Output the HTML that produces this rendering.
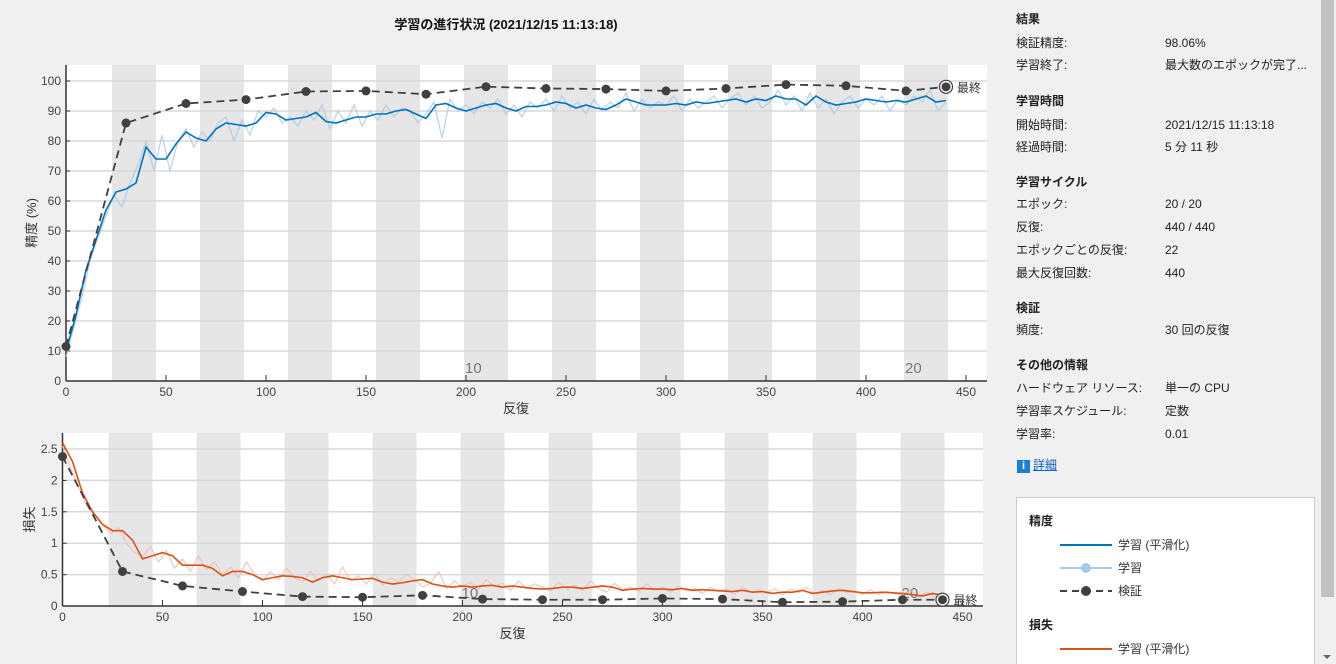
<!DOCTYPE html>
<html style="overflow:hidden"><head><meta charset="utf-8">
<style>
html,body{overflow:hidden;height:664px}
body{margin:0;width:1336px;height:664px;background:#f0f0f0;font-family:"Liberation Sans","Noto Sans CJK JP",sans-serif;overflow:hidden;position:relative}
.p{position:absolute;font-size:12px;line-height:16px;height:16px;color:#222;white-space:nowrap;margin-top:-2px}
.h{font-weight:bold}
</style></head><body>
<svg id="chart" width="1000" height="664" style="position:absolute;left:0;top:0" font-family="Liberation Sans, Noto Sans CJK JP, sans-serif">
<text x="506" y="29" text-anchor="middle" font-size="13" font-weight="bold" fill="#111">学習の進行状況 (2021/12/15 11:13:18)</text>
</svg>
<div class="p h" style="left:1016px;top:13px">結果</div>
<div class="p" style="left:1016px;top:37px">検証精度:</div><div class="p" style="left:1165px;top:37px">98.06%</div>
<div class="p" style="left:1016px;top:59px">学習終了:</div><div class="p" style="left:1165px;top:59px">最大数のエポックが完了...</div>
<div class="p h" style="left:1016px;top:95px">学習時間</div>
<div class="p" style="left:1016px;top:119px">開始時間:</div><div class="p" style="left:1165px;top:119px">2021/12/15 11:13:18</div>
<div class="p" style="left:1016px;top:141px">経過時間:</div><div class="p" style="left:1165px;top:141px">5 分 11 秒</div>
<div class="p h" style="left:1016px;top:176px">学習サイクル</div>
<div class="p" style="left:1016px;top:198px">エポック:</div><div class="p" style="left:1165px;top:198px">20 / 20</div>
<div class="p" style="left:1016px;top:221px">反復:</div><div class="p" style="left:1165px;top:221px">440 / 440</div>
<div class="p" style="left:1016px;top:244px">エポックごとの反復:</div><div class="p" style="left:1165px;top:244px">22</div>
<div class="p" style="left:1016px;top:267px">最大反復回数:</div><div class="p" style="left:1165px;top:267px">440</div>
<div class="p h" style="left:1016px;top:302px">検証</div>
<div class="p" style="left:1016px;top:324px">頻度:</div><div class="p" style="left:1165px;top:324px">30 回の反復</div>
<div class="p h" style="left:1016px;top:359px">その他の情報</div>
<div class="p" style="left:1016px;top:382px">ハードウェア リソース:</div><div class="p" style="left:1165px;top:382px">単一の CPU</div>
<div class="p" style="left:1016px;top:405px">学習率スケジュール:</div><div class="p" style="left:1165px;top:405px">定数</div>
<div class="p" style="left:1016px;top:428px">学習率:</div><div class="p" style="left:1165px;top:428px">0.01</div>
<div class="p" style="left:1017px;top:459px;color:#0a5fc8;text-decoration:underline"><span style="display:inline-block;width:13px;height:13px;background:#1a7fd4;color:#fff;font-weight:bold;text-align:center;line-height:13px;font-size:11px;text-decoration:none;margin-right:3px">i</span>詳細</div>
<div style="position:absolute;left:1016px;top:497px;width:297px;height:170px;background:#fff;border:1px solid #ccc;border-bottom:none;overflow:hidden">
<svg width="297" height="170" font-family="Liberation Sans, Noto Sans CJK JP, sans-serif" font-size="12">
<text x="12" y="27" font-weight="bold" fill="#222">精度</text>
<line x1="43" y1="47" x2="95" y2="47" stroke="#0072bd" stroke-width="2"/><text x="101" y="51" fill="#333">学習 (平滑化)</text>
<line x1="43" y1="70" x2="95" y2="70" stroke="#a6cbe6" stroke-width="2"/><circle cx="69" cy="70" r="5" fill="#a6cbe6"/><text x="101" y="74" fill="#333">学習</text>
<line x1="43" y1="93" x2="95" y2="93" stroke="#404040" stroke-width="2" stroke-dasharray="7,5"/><circle cx="69" cy="93" r="5" fill="#404040"/><text x="101" y="97" fill="#333">検証</text>
<text x="12" y="131" font-weight="bold" fill="#222">損失</text>
<line x1="43" y1="151" x2="95" y2="151" stroke="#d95319" stroke-width="2"/><text x="101" y="155" fill="#333">学習 (平滑化)</text>
</svg></div>
<div style="position:absolute;left:1319px;top:0;width:17px;height:664px;background:#f0f0f0">
<div style="position:absolute;left:2px;top:0;width:13px;height:597px;background:#c1c1c1"></div>
<div style="position:absolute;left:4px;top:655px;width:0;height:0;border-left:4px solid transparent;border-right:4px solid transparent;border-top:4px solid #666"></div></div>
<script>
const accSmooth=[10,22,37,47,57,63,64,66,78,74,74,79,83,81,80,84,86,85.5,85,86,89.5,89,87,87.5,88,89.5,86.5,86,87,88,88,89,89,90,90.5,89,87.5,92,92.5,91,90,91,92,92.5,91,90,91.5,91.5,92,93,92.5,91,92,91,90.5,92,94,93,92,92,92,92.5,92,93,92.5,93,93.5,94,93,94,93.5,95,94,94,92,95,93,92,92.5,93,94,93.5,93,93.5,93,94,95,93,93.5];
const accRaw=[8,18,28,40,48,55,62,58,66,72,80,70,82,70,80,84,78,83,80,86,88,80,87,82,90,88,91,86,88,85,90,87,92,84,90,86,92,85,90,87,92,88,91,90,86,89,93,81,94,90,92,89,93,91,94,89,92,88,93,91,94,90,95,91,93,89,94,90,93,91,96,90,94,91,93,92,95,90,94,91,93,95,91,94,96,92,95,91,93,97,92,95,90,96,91,94,89,93,95,91,94,92,95,90,94,92,95,93,97,90,93];
const valIter=[0,30,60,90,120,150,180,210,240,270,300,330,360,390,420,440];
const valAcc=[11.5,86,92.5,93.8,96.5,96.7,95.6,98.1,97.5,97.3,96.7,97.5,98.8,98.4,96.7,98.06];
const lossSmooth=[2.6,2.3,1.8,1.5,1.3,1.2,1.2,1.05,0.75,0.8,0.85,0.8,0.65,0.65,0.65,0.6,0.48,0.55,0.55,0.5,0.42,0.45,0.48,0.47,0.45,0.38,0.45,0.48,0.45,0.42,0.43,0.44,0.38,0.35,0.37,0.4,0.42,0.35,0.32,0.3,0.32,0.3,0.32,0.33,0.3,0.32,0.3,0.28,0.27,0.28,0.3,0.3,0.28,0.3,0.32,0.3,0.25,0.27,0.28,0.27,0.27,0.26,0.28,0.25,0.26,0.25,0.24,0.23,0.25,0.22,0.23,0.2,0.22,0.22,0.25,0.2,0.22,0.24,0.25,0.23,0.21,0.21,0.22,0.21,0.2,0.18,0.16,0.2,0.17];
const lossRaw=[2.55,2.2,1.9,1.6,1.45,1.3,1.15,1.25,1.0,0.85,0.78,0.95,0.7,0.88,0.6,0.75,0.55,0.8,0.58,0.7,0.5,0.62,0.45,0.7,0.5,0.4,0.55,0.42,0.6,0.45,0.38,0.55,0.4,0.5,0.35,0.62,0.4,0.48,0.35,0.52,0.33,0.45,0.38,0.5,0.42,0.3,0.36,0.55,0.28,0.4,0.3,0.38,0.26,0.42,0.3,0.36,0.25,0.4,0.28,0.35,0.3,0.24,0.38,0.27,0.33,0.25,0.4,0.28,0.22,0.36,0.26,0.3,0.23,0.35,0.25,0.3,0.22,0.32,0.24,0.28,0.2,0.3,0.23,0.27,0.19,0.3,0.22,0.26,0.2,0.28,0.18,0.27,0.21,0.3,0.2,0.25,0.18,0.28,0.21,0.24,0.19,0.26,0.18,0.23,0.2,0.17,0.25,0.15,0.22,0.14,0.18];
const valLoss=[2.38,0.55,0.32,0.23,0.15,0.14,0.17,0.11,0.1,0.1,0.12,0.11,0.06,0.07,0.1,0.1];
const xTicks=[0,50,100,150,200,250,300,350,400,450];
const accTicks=[0,10,20,30,40,50,60,70,80,90,100];
const lossTicks=[0,0.5,1,1.5,2,2.5];
const lossTickLabels=['0','0.5','1','1.5','2','2.5'];

const svg=document.getElementById('chart');
const NS='http://www.w3.org/2000/svg';
function mk(tag,at,parent){const e=document.createElementNS(NS,tag);for(const k in at)e.setAttribute(k,at[k]);(parent||svg).appendChild(e);return e;}

function panel(cfg){
  const X=v=>cfg.x0+v*cfg.xs, Y=v=>cfg.y0-(v-cfg.ymin)*cfg.ys;
  const bg=mk('rect',{x:cfg.x0,y:cfg.top,width:cfg.right-cfg.x0,height:cfg.y0-cfg.top,fill:'#fff'});
  
  
  for(let e=1;e<20;e+=2){
    const b=mk('rect',{x:X(e*22+1),y:cfg.top,width:22*cfg.xs,height:cfg.y0-cfg.top,fill:'#e6e6e6'});
    
    
  }
  cfg.yt.forEach((t,i)=>{
    if(t>0)mk('line',{x1:cfg.x0,x2:cfg.right,y1:Y(t),y2:Y(t),stroke:'#d8d8d8','stroke-width':1.5});
    mk('line',{x1:cfg.x0,x2:cfg.x0+4,y1:Y(t),y2:Y(t),stroke:'#333'});
    const tl=mk('text',{x:cfg.x0-5,y:Y(t)+4,'text-anchor':'end','font-size':12,fill:'#444'});tl.textContent=cfg.ytl[i];
    
    
  });
  xTicks.forEach(t=>{
    mk('line',{x1:X(t),x2:X(t),y1:cfg.y0,y2:cfg.y0-6,stroke:'#333'});
    const tl=mk('text',{x:X(t),y:cfg.y0+15,'text-anchor':'middle','font-size':12,fill:'#444'});tl.textContent=t;
    
    
  });
  [[10,198],[20,418]].forEach(([n,it])=>{const t=mk('text',{x:X(it)+3,y:cfg.y0-8,'font-size':15,fill:'#777'});t.textContent=n;
    
    });
  mk('line',{x1:cfg.x0,x2:cfg.x0,y1:cfg.top,y2:cfg.y0,stroke:'#333','stroke-width':1.5});
  mk('line',{x1:cfg.x0,x2:cfg.right,y1:cfg.y0,y2:cfg.y0,stroke:'#333','stroke-width':1.5});
  const raw=mk('polyline',{points:cfg.raw.map((v,i)=>X(i*4)+','+Y(v)).join(' '),fill:'none',stroke:cfg.rawc,'stroke-width':1.3,opacity:0.8});
  
  
  const sm=mk('polyline',{points:cfg.sm.map((v,i)=>X(i*5)+','+Y(v)).join(' '),fill:'none',stroke:cfg.smc,'stroke-width':1.6});
  
  
  const vl=mk('polyline',{points:valIter.map((it,i)=>X(it)+','+Y(cfg.val[i])).join(' '),fill:'none',stroke:'#404040','stroke-width':1.8,'stroke-dasharray':'8,5'});
  
  
  valIter.forEach((it,i)=>{
    const last=i===valIter.length-1;
    if(last)mk('circle',{cx:X(it),cy:Y(cfg.val[i]),r:6.5,fill:'#fff',stroke:'#404040','stroke-width':1.2});
    const c=mk('circle',{cx:X(it),cy:Y(cfg.val[i]),r:4.5,fill:'#404040'});
    
    
    if(last){const t=mk('text',{x:X(it)+11,y:Y(cfg.val[i])+5,'font-size':12,fill:'#333'});t.textContent='最終';
      
      }
  });
  const xl=mk('text',{x:(cfg.x0+X(450))/2,y:cfg.y0+32,'text-anchor':'middle','font-size':13,fill:'#333'});xl.textContent='反復';
  
  
  const yl=mk('text',{x:0,y:0,'text-anchor':'middle','font-size':13,fill:'#333',transform:`translate(${cfg.ylx},${(cfg.top+cfg.y0)/2}) rotate(-90)`});yl.textContent=cfg.ylabel;
  
  
}
panel({name:'accuracy',x0:66,xs:2,right:987,top:65,y0:381,ymin:0,ys:3,yt:accTicks,ytl:accTicks.map(String),raw:accRaw,sm:accSmooth,val:valAcc,rawc:'#a6cbe6',smc:'#0072bd',ylabel:'精度 (%)',ylx:36});
panel({name:'loss',x0:62.5,xs:2,right:983,top:433,y0:606,ymin:0,ys:62.8,yt:lossTicks,ytl:lossTickLabels,raw:lossRaw,sm:lossSmooth,val:valLoss,rawc:'#ecc0ae',smc:'#d95319',ylabel:'損失',ylx:34});
</script>
</body></html>
